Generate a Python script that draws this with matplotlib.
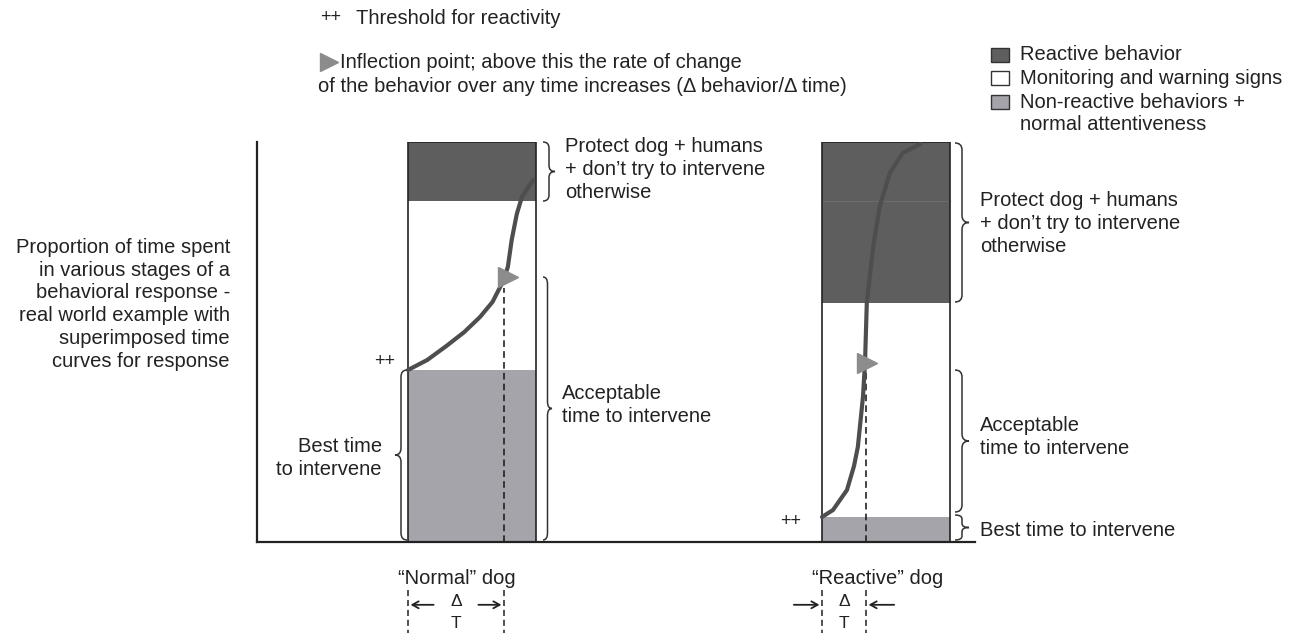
import matplotlib
matplotlib.use('Agg')
import matplotlib.pyplot as plt
from matplotlib.path import Path
from matplotlib.patches import PathPatch, Rectangle

plt.rcParams['font.family'] = ['Liberation Sans', 'DejaVu Sans']

# --- data (proportion of time, 0 = baseline, 1 = top of bar) ---
dogs = ['\u201cNormal\u201d dog', '\u201cReactive\u201d dog']
nonreactive_top = [0.43, 0.0625]      # top of grey band
reactive_bottom = [0.8525, 0.5975]    # bottom of dark band

# response curves: time (fraction of bar width) vs proportion
normal_t = [0.0, 0.15, 0.30, 0.44, 0.5625, 0.66, 0.74, 0.78, 0.81, 0.85, 0.89, 0.94, 0.98]
normal_p = [0.43, 0.455, 0.49, 0.525, 0.5625, 0.60, 0.65, 0.6875, 0.755, 0.82, 0.8625, 0.8875, 0.905]
reactive_t = [0.0, 0.086, 0.195, 0.25, 0.28, 0.32, 0.336, 0.35, 0.40, 0.45, 0.53, 0.63, 0.77]
reactive_p = [0.0625, 0.08, 0.13, 0.19, 0.2375, 0.3625, 0.4475, 0.5975, 0.7375, 0.8375, 0.9225, 0.9725, 0.995]

inflection_t = [0.75, 0.344]
inflection_p = [0.65, 0.4475]

legend_labels = ['Reactive behavior', 'Monitoring and warning signs',
                 'Non-reactive behaviors +', 'normal attentiveness']

DARK = '#5e5e5e'
GREY = '#a4a4aa'
CURVE = '#4e4e4e'
TRI = '#8c8c8c'
INK = '#222222'
FS = 14.5

W, H = 1297, 633
fig = plt.figure(figsize=(W / 100, H / 100), dpi=100)

# main chart axes: x in bar widths (1 unit = 128 px), y in proportion
ax = fig.add_axes([257 / W, (H - 542) / H, 718 / W, 400 / H])
ax.set_xlim(0, 718 / 128)
ax.set_ylim(0, 1)
for s in ['top', 'right']:
    ax.spines[s].set_visible(False)
for s in ['left', 'bottom']:
    ax.spines[s].set_linewidth(1.6)
    ax.spines[s].set_color(INK)
ax.set_xticks([])
ax.set_yticks([])

bar_left = [(408 - 257) / 128, (822 - 257) / 128]
curves = [(normal_t, normal_p), (reactive_t, reactive_p)]

for i in range(2):
    x0 = bar_left[i]
    g = nonreactive_top[i]
    d = reactive_bottom[i]
    ax.bar(x0, g, width=1, bottom=0, align='edge', color=GREY, zorder=1)
    ax.bar(x0, d - g, width=1, bottom=g, align='edge', color='white', zorder=1)
    ax.bar(x0, 1 - d, width=1, bottom=d, align='edge', color=DARK, zorder=1)
    ax.bar(x0, 1, width=1, bottom=0, align='edge', fill=False, edgecolor=INK, lw=1.2, zorder=2)

    # dashed line from baseline up to the inflection point
    xi = x0 + inflection_t[i]
    ax.plot([xi, xi], [0, inflection_p[i] - 0.015], color=INK, lw=1.2, ls=(0, (4, 2.5)), zorder=3)

    t, p = curves[i]
    ax.plot([x0 + v for v in t], p, color=CURVE, lw=3, solid_capstyle='round',
            solid_joinstyle='round', zorder=4)

# faint second tone line in reactive dark band
ax.plot([bar_left[1], bar_left[1] + 1], [reactive_bottom[0], reactive_bottom[0]],
        color='#6c6c6c', lw=0.8, zorder=1.5)

# inflection triangles
ax.plot(bar_left[0] + inflection_t[0] + 0.035, inflection_p[0] + 0.012, marker='>',
        ms=14, color=TRI, mec=TRI, zorder=5)
ax.plot(bar_left[1] + inflection_t[1] + 0.005, inflection_p[1], marker='>',
        ms=14, color=TRI, mec=TRI, zorder=5)

# below-axis delta T markers and dog labels
arr = dict(arrowstyle='->,head_length=0.45,head_width=0.25', lw=1.3, color=INK,
           shrinkA=0, shrinkB=0)
for i in range(2):
    x0 = bar_left[i]
    xi = x0 + inflection_t[i]
    for xx in [x0, xi]:
        ax.plot([xx, xx], [-0.12, -0.23], color=INK, lw=1.1, ls=(0, (4, 2.5)), clip_on=False)
    ax.text(x0 - 0.08, -0.09, dogs[i], fontsize=FS, color=INK, ha='left', va='center')
    xm = (x0 + xi) / 2
    ax.text(xm, -0.148, '\u0394', fontsize=12.5, color=INK, ha='center', va='center')
    ax.text(xm, -0.203, 'T', fontsize=12.5, color=INK, ha='center', va='center')
    if i == 0:
        ax.annotate('', xy=(x0 + 0.02, -0.157), xytext=(x0 + 0.2, -0.157),
                    arrowprops=arr, annotation_clip=False)
        ax.annotate('', xy=(xi - 0.02, -0.157), xytext=(xi - 0.2, -0.157),
                    arrowprops=arr, annotation_clip=False)
    else:
        ax.annotate('', xy=(x0 - 0.02, -0.157), xytext=(x0 - 0.22, -0.157),
                    arrowprops=arr, annotation_clip=False)
        ax.annotate('', xy=(xi + 0.02, -0.157), xytext=(xi + 0.22, -0.157),
                    arrowprops=arr, annotation_clip=False)

# overlay in pixel coordinates for annotations
lay = fig.add_axes([0, 0, 1, 1])
lay.set_xlim(0, W)
lay.set_ylim(H, 0)
lay.set_facecolor('none')
lay.axis('off')


def brace(x0, y0, y1, w, r=7):
    ym = (y0 + y1) / 2
    xs = x0 + w / 2
    verts = [(x0, y0), (xs, y0), (xs, y0 + r), (xs, ym - r), (xs, ym), (x0 + w, ym),
             (xs, ym), (xs, ym + r), (xs, y1 - r), (xs, y1), (x0, y1)]
    codes = [Path.MOVETO, Path.CURVE3, Path.CURVE3, Path.LINETO, Path.CURVE3, Path.CURVE3,
             Path.CURVE3, Path.CURVE3, Path.LINETO, Path.CURVE3, Path.CURVE3]
    lay.add_patch(PathPatch(Path(verts, codes), fill=False, lw=1.1, ec='#333333'))


brace(543, 142, 201, 12, r=6)
brace(543, 277, 540, 9)
brace(407, 370, 540, -12)
brace(955, 143, 302, 14)
brace(955, 370, 512, 14)
brace(955, 515, 540, 14, r=4)

protect = 'Protect dog + humans\n+ don\u2019t try to intervene\notherwise'
accept = 'Acceptable\ntime to intervene'
txt = dict(fontsize=FS, color=INK, linespacing=1.25)
lay.text(565, 137, protect, ha='left', va='top', **txt)
lay.text(562, 384, accept, ha='left', va='top', **txt)
lay.text(382, 437, 'Best time\nto intervene', ha='right', va='top', **txt)
lay.text(980, 191, protect, ha='left', va='top', **txt)
lay.text(980, 416, accept, ha='left', va='top', **txt)
lay.text(980, 530, 'Best time to intervene', ha='left', va='center', **txt)

lay.text(374, 362, '++', fontsize=13, color=INK, ha='left', va='center')
lay.text(780, 522, '++', fontsize=13, color=INK, ha='left', va='center')

lay.text(230, 238, 'Proportion of time spent\nin various stages of a\nbehavioral response -\n'
         'real world example with\nsuperimposed time\ncurves for response',
         ha='right', va='top', **txt)

# top notes
lay.text(320, 18, '++', fontsize=13, color=INK, ha='left', va='center')
lay.text(356, 18, 'Threshold for reactivity', fontsize=FS, color=INK, ha='left', va='center')
lay.plot(329, 62, marker='>', ms=13, color=TRI, mec=TRI)
lay.text(340, 63, 'Inflection point; above this the rate of change', fontsize=FS, color=INK,
         ha='left', va='center')
lay.text(318, 87, 'of the behavior over any time increases (\u0394 behavior/\u0394 time)',
         fontsize=FS, color=INK, ha='left', va='center')

# legend
fills = [DARK, 'white', GREY]
rows = [55, 78, 102, 125]
for fc, yy in zip(fills, rows):
    lay.add_patch(Rectangle((991, yy - 7), 18, 14, facecolor=fc, edgecolor='#333333', lw=1))
for lab, yy in zip(legend_labels, rows):
    lay.text(1020, yy, lab, fontsize=FS, color=INK, ha='left', va='center')

fig.savefig('out.png', dpi=100, facecolor='white')
